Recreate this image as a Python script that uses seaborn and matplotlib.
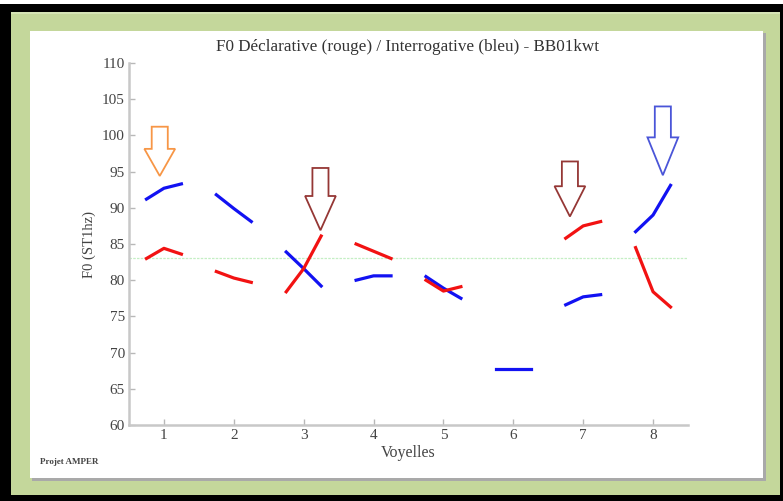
import numpy as np
import pandas as pd
import matplotlib
matplotlib.use("Agg")
import matplotlib.pyplot as plt
from matplotlib.patches import Rectangle, Polygon
import seaborn as sns

# ---------------- data ----------------
vowels = [1, 2, 3, 4, 5, 6, 7, 8]
# three samples per vowel (start, middle, end) in ST re 1 Hz
declarative = [  # red
    [83.0, 84.4, 83.6],
    [81.2, 80.3, 79.7],
    [78.4, 81.6, 86.1],
    [85.0, 84.0, 83.0],
    [80.0, 78.5, 79.1],
    None,
    [85.8, 87.5, 88.1],
    [84.5, 78.4, 76.3],
]
interrogative = [  # blue
    [91.2, 92.7, 93.3],
    [91.8, 89.9, 88.1],
    [83.9, 81.6, 79.2],
    [80.0, 80.6, 80.6],
    [80.5, 78.9, 77.5],
    [67.7, 67.7, 67.7],
    [76.6, 77.7, 78.0],
    [86.7, 89.0, 93.1],
]
reference_level = 83.0
yticks = [60, 65, 70, 75, 80, 85, 90, 95, 100, 105, 110]
xticks = vowels

# annotation arrows: (x, tip value, top value, colour)
arrow_x = [0.94, 3.24, 6.81, 8.14]
arrow_tip = [94.4, 86.9, 88.8, 94.5]
arrow_top = [101.2, 95.5, 96.4, 104.0]
arrow_colors = ["#f79646", "#953735", "#953735", "#4a55d8"]

# ---------------- build table ----------------
offsets = [-0.25, 0.0, 0.25]
rows = []
for name, series in (("Interrogative", interrogative), ("Declarative", declarative)):
    for v, vals in zip(vowels, series):
        if vals is None:
            continue
        for off, val in zip(offsets, vals):
            rows.append({"series": name, "seg": f"{name}{v}", "x": v + off, "f0": val})
df = pd.DataFrame(rows)

# ---------------- figure ----------------
W, H = 783, 501
fig = plt.figure(figsize=(W / 100, H / 100), dpi=100)
fig.patch.set_facecolor("black")


def px_rect(x0, y0, x1, y1, **kw):
    r = Rectangle((x0 / W, 1 - y1 / H), (x1 - x0) / W, (y1 - y0) / H,
                  transform=fig.transFigure, zorder=-10, **kw)
    fig.patches.append(r)
    return r


px_rect(0, 0, W, 4, facecolor="white", edgecolor="none")
px_rect(11, 12, 780, 495, facecolor="#c4d79b", edgecolor="none")
px_rect(11, 12, 780, 14, facecolor="#d5e3b5", edgecolor="none")
px_rect(32, 33, 766, 481, facecolor="#a9a9a9", edgecolor="none")
px_rect(30, 31, 763, 478, facecolor="white", edgecolor="none")

ax = fig.add_axes([129 / W, 1 - 425 / H, (688 - 129) / W, (425 - 63) / H])
ax.set_facecolor("none")
ax.set_zorder(5)

serif = ["Liberation Serif", "DejaVu Serif"]

ax.plot([0.5, 8.5], [reference_level, reference_level], color="#c4efc4",
        lw=0.9, ls=(0, (2, 1)), zorder=1)

sns.lineplot(data=df, x="x", y="f0", hue="series", units="seg", estimator=None,
             palette={"Interrogative": "#1212f2", "Declarative": "#f21212"},
             hue_order=["Interrogative", "Declarative"],
             lw=2.3, legend=False, ax=ax, zorder=3, sort=False)

for x, tip, top, c in zip(arrow_x, arrow_tip, arrow_top, arrow_colors):
    sw = 0.115   # half shaft width
    hw = 0.22    # half head width
    base = tip + (top - tip) * 0.55
    pts = [(x - sw, top), (x + sw, top), (x + sw, base), (x + hw, base),
           (x, tip), (x - hw, base), (x - sw, base)]
    ax.add_patch(Polygon(pts, closed=True, facecolor="white", edgecolor=c,
                         lw=1.3, zorder=4))

ax.set_xlim(0.5, 8.5)
ax.set_ylim(60, 110)
ax.set_xticks(xticks)
ax.set_yticks(yticks)
ax.set_xticklabels([str(v) for v in xticks], fontfamily=serif, fontsize=11, color="#444444")
ax.set_yticklabels([str(v) for v in yticks], fontfamily=serif, fontsize=11, color="#444444")
ax.tick_params(direction="in", length=4, width=1, color="#b8b8b8", pad=3)
for s in ("top", "right"):
    ax.spines[s].set_visible(False)
for s in ("left", "bottom"):
    ax.spines[s].set_color("#c8c8c8")
    ax.spines[s].set_linewidth(1.8)

ax.set_xlabel("Voyelles", fontfamily=serif, fontsize=11.5, color="#444444", labelpad=2)
ax.set_ylabel("F0 (ST1hz)", fontfamily=serif, fontsize=10.5, color="#444444", labelpad=4)

fig.text(408 / W, 1 - 47 / H, "F0 Déclarative (rouge) / Interrogative (bleu) - BB01kwt",
         ha="center", va="center", fontfamily=serif, fontsize=12.3, color="#333333")
fig.text(40 / W, 1 - 462 / H, "Projet AMPER", ha="left", va="center",
         fontfamily=serif, fontsize=6.5, fontweight="bold", color="#444444")

fig.savefig("out.png", dpi=100, facecolor=fig.get_facecolor())
